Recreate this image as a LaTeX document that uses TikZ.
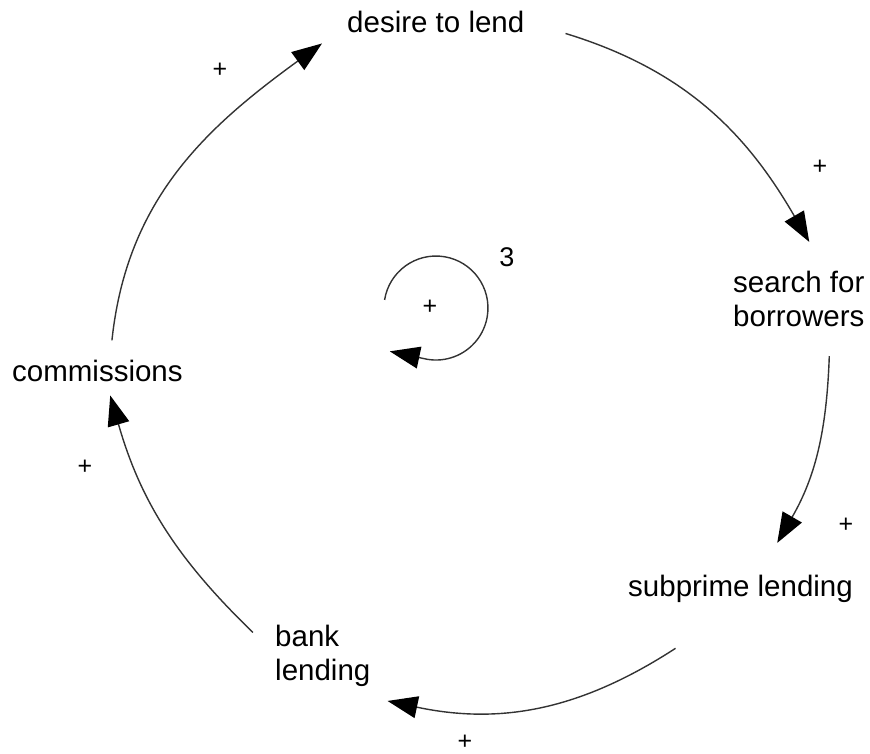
\documentclass[tikz,border=0pt]{standalone}
\usepackage{fontspec}
\setmainfont{Liberation Sans}
\usetikzlibrary{arrows.meta}
\tikzset{
  var/.style={inner sep=0pt, anchor=base west, font=\fontsize{29.5}{34}\selectfont},
  pol/.style={inner sep=0pt, font=\fontsize{25}{28}\selectfont},
  link/.style={-{Triangle[length=30pt,width=22pt,black]}, line width=1.4pt, draw=black!80},
}
\begin{document}
\begin{tikzpicture}[x=1pt,y=1pt]
  \useasboundingbox (0,0) rectangle (870,754);
  % variables
  \node[var] (desire) at (347,721) {desire to lend};
  \node[var,align=left,anchor=west] (search) at (733,455) {search for\\borrowers};
  \node[var] (subprime) at (628,157) {subprime lending};
  \node[var,align=left,anchor=west] (bank) at (275,98) {bank\\lending};
  \node[var] (comm) at (12,372) {commissions};
  % causal links
  \draw[link] ([shift={(14.5,20)}]comm.north) to[out=84,in=216] ([shift={(-25,-10)}]desire.south west);
  \draw[link] ([shift={(41,0)}]desire.south east) to[out=-17,in=120] ([shift={(10.5,29)}]search.north);
  \draw[link] ([shift={(30.5,-29)}]search.south) to[out=-92,in=60] ([shift={(36.7,32.5)}]subprime.north);
  \draw[link] ([shift={(-65,-45)}]subprime.south) to[out=213,in=-12] ([shift={(17,-14)}]bank.south east);
  \draw[link] ([shift={(-22,23.5)}]bank.west) to[out=136,in=-74] ([shift={(12.8,-13)}]comm.south);
  % polarities
  \node[pol] (p1) at (220,684) {+};
  \node[pol] (p2) at (820,587) {+};
  \node[pol] (p3) at (846,229) {+};
  \node[pol] (p4) at (465,12) {+};
  \node[pol] (p5) at (85,287) {+};
  % loop marker
  \node[pol] (loopsign) at (430,447) {+};
  \node[pol,font=\fontsize{27}{30}\selectfont] (loopnum) at (507,497) {3};
  \draw[link] ([shift={(-45.4,7.1)}]loopsign.center) arc[start angle=171,end angle=-100,radius=52] -- ++(168:38);
\end{tikzpicture}
\end{document}
